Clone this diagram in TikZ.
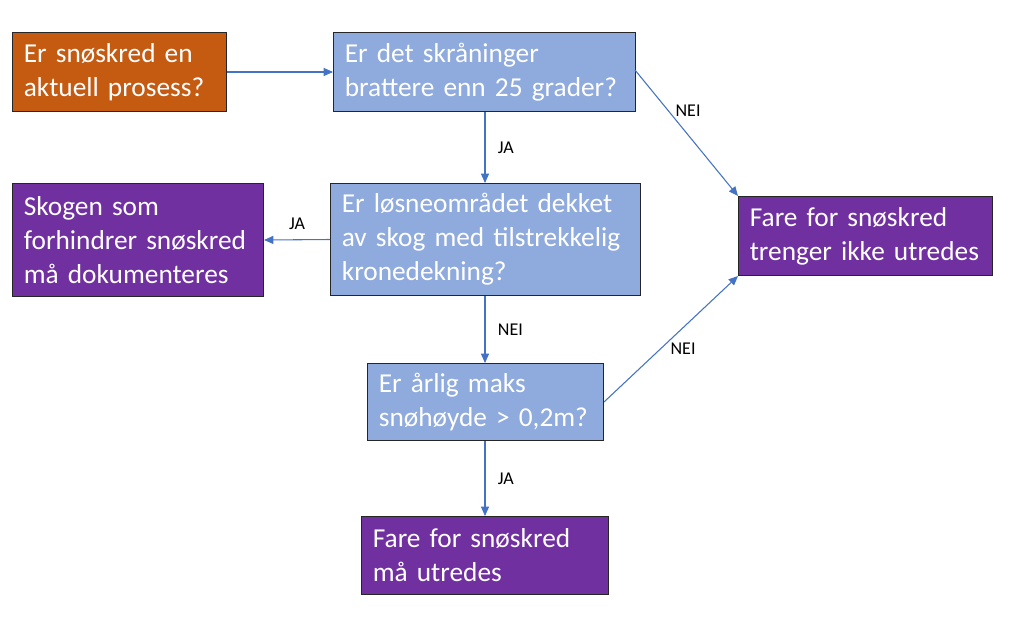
\documentclass[tikz,border=0pt]{standalone}
\usepackage{fontspec}
\setmainfont{Carlito}
\usetikzlibrary{arrows.meta}
\definecolor{orangebox}{RGB}{197,90,17}
\definecolor{bluebox}{RGB}{143,170,220}
\definecolor{purplebox}{RGB}{112,48,160}
\definecolor{arrowblue}{RGB}{68,114,196}
\tikzset{
  box/.style={draw=black!85, line width=0.75pt, anchor=north west, text=white,
    font=\fontsize{20.5}{25.5}\selectfont, align=left, inner xsep=8.5pt, inner ysep=0pt},
  qbox/.style={box, fill=bluebox},
  startbox/.style={box, fill=orangebox},
  endbox/.style={box, fill=purplebox},
  conn/.style={draw=arrowblue, line width=0.8pt, -{Triangle[length=7pt,width=6pt]}},
  lbl/.style={font=\fontsize{13.5}{15}\selectfont, text=black}
}
\newcommand{\bx}[7]{% name, style, x1, y1, x2, y2, text
  \node[#2, minimum width={(#5-#3)*0.75pt}, minimum height={(#6-#4)*0.75pt},
    text width={(#5-#3)*0.75pt-17pt}] (#1) at (#3*0.75pt,-#4*0.75pt) {#7};}
\begin{document}
\begin{tikzpicture}[x=0.75pt,y=-0.75pt]
\useasboundingbox (0,0) rectangle (1011,618);
\bx{start}{startbox}{12}{32}{226}{111}{Er snøskred en\\aktuell prosess?}
\bx{slope}{qbox}{333}{32}{635}{111}{Er det skråninger\\brattere enn 25 grader?}
\bx{forest}{qbox}{330}{183}{640}{295}{Er løsneområdet dekket\\av skog med tilstrekkelig\\kronedekning?}
\bx{doc}{endbox}{12}{183}{263}{296}{Skogen som\\forhindrer snøskred\\må dokumenteres}
\bx{none}{endbox}{738}{196}{992}{275}{Fare for snøskred\\trenger ikke utredes}
\bx{snow}{qbox}{367}{363}{603}{440}{Er årlig maks\\snøhøyde > 0,2m?}
\bx{assess}{endbox}{361}{516}{608}{594}{Fare for snøskred\\må utredes}
\coordinate (a) at (635,70);

\draw[conn] (start.east) -- (slope.west);
\draw[conn] (slope.south -| 485,0) -- (forest.north -| 485,0) node[lbl, midway, anchor=west, xshift=6pt] {JA};
\draw[conn] (forest.west) -- (doc.east) node[lbl, midway, anchor=south, yshift=4pt] {JA};
\draw[conn] (a) -- (none.north west) node[lbl, pos=0.32, anchor=west, xshift=2pt] {NEI};
\draw[conn] (forest.south -| 485,0) -- (snow.north -| 485,0) node[lbl, midway, anchor=west, xshift=6pt] {NEI};
\draw[conn] (snow.east) -- (none.south west) node[lbl, pos=0.59, anchor=north, yshift=-8pt] {NEI};
\draw[conn] (snow.south -| 485,0) -- (assess.north -| 485,0) node[lbl, midway, anchor=west, xshift=6pt] {JA};
\end{tikzpicture}
\end{document}
